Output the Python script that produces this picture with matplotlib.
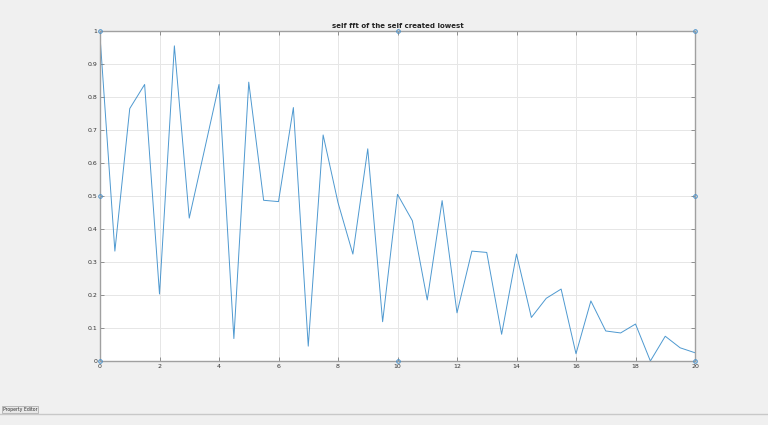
import matplotlib
matplotlib.use("Agg")
import matplotlib.pyplot as plt
from matplotlib.lines import Line2D
from matplotlib.patches import Rectangle

freq = [0, 0.5, 1, 1.5, 2, 2.5, 3, 3.5, 4, 4.5, 5, 5.5, 6, 6.5, 7, 7.5, 8, 8.5, 9, 9.5,
        10, 10.5, 11, 11.5, 12, 12.5, 13, 13.5, 14, 14.5, 15, 15.5, 16, 16.5, 17, 17.5,
        18, 18.5, 19, 19.5, 20]
magnitude = [0.985, 0.333, 0.765, 0.838, 0.203, 0.955, 0.433, 0.635, 0.838, 0.068,
             0.845, 0.487, 0.483, 0.768, 0.045, 0.685, 0.480, 0.324, 0.643, 0.119,
             0.505, 0.425, 0.185, 0.486, 0.146, 0.333, 0.329, 0.081, 0.324, 0.132,
             0.190, 0.218, 0.022, 0.182, 0.091, 0.085, 0.112, 0.0, 0.075, 0.040, 0.025]
xticks = [0, 2, 4, 6, 8, 10, 12, 14, 16, 18, 20]
yticks = [0, 0.1, 0.2, 0.3, 0.4, 0.5, 0.6, 0.7, 0.8, 0.9, 1]
ytick_labels = ["0", "0.1", "0.2", "0.3", "0.4", "0.5", "0.6", "0.7", "0.8", "0.9", "1"]
title = "self fft of the self created lowest"

fig = plt.figure(figsize=(7.68, 4.25), dpi=100, facecolor="#f0f0f0")
ax = fig.add_axes([100/768, 1-361/425, 595/768, 330/425])
ax.set_facecolor("white")
ax.plot(freq, magnitude, color="#2f87c8", lw=0.7, alpha=0.85)
ax.set_xlim(0, 20)
ax.set_ylim(0, 1)
ax.set_xticks(xticks)
ax.set_xticklabels([str(t) for t in xticks])
ax.set_yticks(yticks)
ax.set_yticklabels(ytick_labels)
ax.grid(True, color="#e6e6e6", lw=0.7)
ax.set_axisbelow(True)
ax.tick_params(direction="in", length=3, width=0.6, color="#808080",
               labelsize=4.5, labelcolor="#333333", top=True, right=True, pad=2)
for s in ax.spines.values():
    s.set_color("#a0a0a0")
    s.set_linewidth(1.0)
ax.set_title(title, fontsize=5, fontweight="bold", color="#222222", pad=2)

# selection handles
hx = [0, 10, 20, 0, 20, 0, 10, 20]
hy = [1, 1, 1, 0.5, 0.5, 0, 0, 0]
ax.plot(hx, hy, ls="none", marker="o", ms=2.6, mfc="none", mec="#4a90c8",
        mew=0.7, clip_on=False, zorder=5)

# bottom strip with "Property Editor" tab
fig.add_artist(Line2D([0, 1], [1-413.5/425]*2, transform=fig.transFigure,
                      color="#c8c8c8", lw=1.0))
fig.add_artist(Rectangle((2/768, 1-413/425), 36/768, 7/425, transform=fig.transFigure,
                         facecolor="#e8e8e8", edgecolor="#b0b0b0", lw=0.6))
fig.text(20/768, 1-409.5/425, "Property Editor", fontsize=3.3, ha="center",
         va="center", color="#333333")

fig.savefig("out.png", dpi=100, facecolor=fig.get_facecolor())
